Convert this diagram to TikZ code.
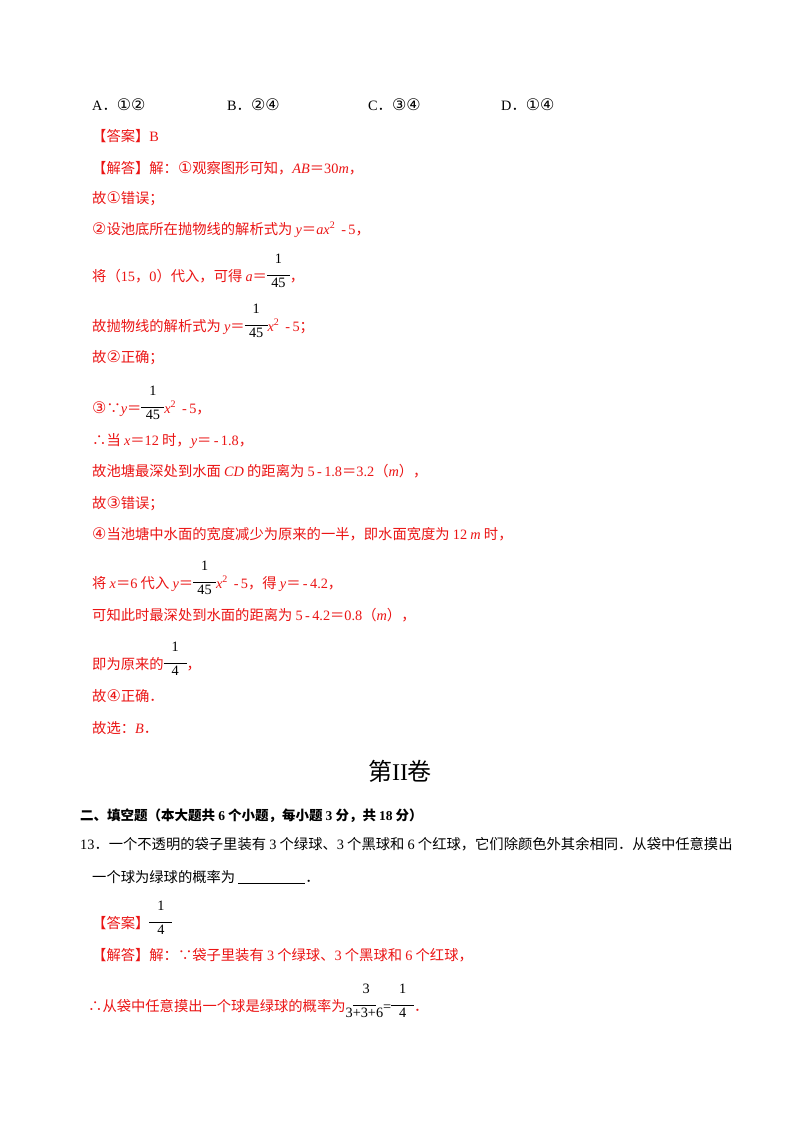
\documentclass[tikz,border=0pt]{standalone}
\usepackage{fontspec}
\setmainfont{Noto Sans CJK SC}
\newfontfamily\lt{Liberation Serif}
\newfontfamily\dv{DejaVu Sans}
\newcommand{\cn}[1]{{\dv\fontsize{16}{16}\selectfont #1}}
\newcommand{\li}[1]{{\lt\itshape #1}}
\newcommand{\lr}[1]{{\lt #1}}
\newcommand{\fr}[2]{{\color{black}\raisebox{0.35em}{\begin{tabular}{@{}c@{}}\lr{#1}\\[-4pt]\rule{1.6em}{0.6pt}\\[-4pt]\lr{#2}\end{tabular}}}}
\definecolor{ans}{RGB}{235,20,20}
\begin{document}
\begin{tikzpicture}[x=1pt,y=-1pt,
  t/.style={anchor=base west,inner sep=0pt,font=\fontsize{14.3}{16}\selectfont},
  r/.style={t,text=ans}]
\useasboundingbox[fill=white] (0,0) rectangle (800,1132);
\node[t] (a1) at (92,110) {\lr{A}．\cn{①②}};
\node[t] (a2) at (227,110) {\lr{B}．\cn{②④}};
\node[t] (a3) at (368,110) {\lr{C}．\cn{③④}};
\node[t] (a4) at (501,110) {\lr{D}．\cn{①④}};
\node[r] (l1) at (92,141) {【答案】\lr{B}};
\node[r] (l2) at (92,173) {【解答】解：\cn{①}观察图形可知，\li{AB}＝\lr{30}\li{m}，};
\node[r] (l3) at (92,203) {故\cn{①}错误；};
\node[r] (l4) at (92,234) {\cn{②}设池底所在抛物线的解析式为 \li{y}＝\li{ax}\lr{\textsuperscript{2} \,-\,5}，};
\node[r] (l5) at (92,281) {将（\lr{15}，\lr{0}）代入，可得 \li{a}＝\fr{1}{45}，};
\node[r] (l6) at (92,331) {故抛物线的解析式为 \li{y}＝\fr{1}{45}\li{x}\lr{\textsuperscript{2} \,-\,5}；};
\node[r] (l7) at (92,362) {故\cn{②}正确；};
\node[r] (l8) at (92,413) {\cn{③}∵\li{y}＝\fr{1}{45}\li{x}\lr{\textsuperscript{2} \,-\,5}，};
\node[r] (l9) at (92,445) {∴当 \li{x}＝\lr{12} 时，\li{y}＝\lr{\,-\,1.8}，};
\node[r] (l10) at (92,476) {故池塘最深处到水面 \li{CD} 的距离为 \lr{5\,-\,1.8}＝\lr{3.2}（\li{m}），};
\node[r] (l11) at (92,508) {故\cn{③}错误；};
\node[r] (l12) at (92,539) {\cn{④}当池塘中水面的宽度减少为原来的一半，即水面宽度为 \lr{12} \li{m} 时，};
\node[r] (l13) at (92,588) {将 \li{x}＝\lr{6} 代入 \li{y}＝\fr{1}{45}\li{x}\lr{\textsuperscript{2} \,-\,5}，得 \li{y}＝\lr{\,-\,4.2}，};
\node[r] (l14) at (92,620) {可知此时最深处到水面的距离为 \lr{5\,-\,4.2}＝\lr{0.8}（\li{m}），};
\node[r] (l15) at (92,669) {即为原来的\fr{1}{4}，};
\node[r] (l16) at (92,701) {故\cn{④}正确．};
\node[r] (l17) at (92,733) {故选：\li{B}．};
\node[t,anchor=base,font=\fontsize{24}{28}\selectfont] (title) at (400,780) {第\lr{II}卷};
\node[t,font=\bfseries\fontsize{13.5}{15}\selectfont] (s2) at (80,820) {二、填空题（本大题共 \lr{6} 个小题，每小题 \lr{3} 分，共 \lr{18} 分）};
\node[t] (q13) at (80,849) {\lr{13}．一个不透明的袋子里装有 \lr{3} 个绿球、\lr{3} 个黑球和 \lr{6} 个红球，它们除颜色外其余相同．从袋中任意摸出};
\node[t] (q13b) at (92,882) {一个球为绿球的概率为 \rule[-2pt]{67pt}{0.6pt}．};
\node[r] (k1) at (92,928) {【答案】\fr{1}{4}};
\node[r] (k2) at (92,960) {【解答】解：∵袋子里装有 \lr{3} 个绿球、\lr{3} 个黑球和 \lr{6} 个红球，};
\node[r] (k3) at (88,1011) {∴从袋中任意摸出一个球是绿球的概率为\fr{\ \ 3\ \ }{3+3+6}{\color{black}\lr{=}}\fr{1}{4}．};
\end{tikzpicture}
\end{document}
